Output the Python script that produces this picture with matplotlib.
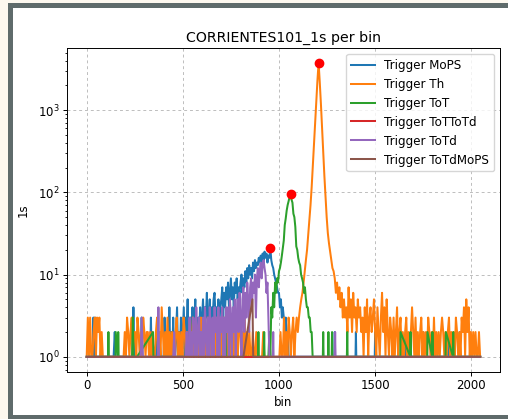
import numpy as np
import matplotlib
matplotlib.use("Agg")
import matplotlib.pyplot as plt
from matplotlib.patches import Rectangle

# ---------------- data (counts per bin) ----------------
# Trigger Th (orange): segments (start bin, step, values)
th_a_start, th_a_step = 0, 6
th_a = [1,3,1,3,1,1,2,3,1,3,2,3,1,2,1,
        1,1,1,1,1,1,1,1,1,1,1,1,1,1,1,1,1,1,
        2,1,3,2,1,2,3,1,2,2,1,3,2,1,2,1,3,2,1,2,2,1,2,
        1,2,1,1,2,3,1,2,1,4,2,1,2,1,3,1,2,1,2,1,1,2,3,1,2,1,2,1,3,2,1,2,1,1,2,1,3,1,2,1,2,1,2,3,1,
        2,1,2,1,3,2,1,2,1,2,1,3,1,2,2,1,2,1,3,2,1,2,1,2,1,3,1,2,1,2,1,4,2,1,2,1,3,1,2,1,2,1,1,2,1,
        1,2,1,1,1,1,1,2,1,1,1,1,1,1,1,1,1,1,1,1,1,1,2,1,1,3,1,2,1,3,2,1,2,3,1,2,3,2]
th_b_start, th_b_step = 1104, 6
th_b = [3,4,5,6,8,11,15,20,30,45,70,116,210,380,700,1300,2300,3776,2200,1200,
        600,300,160,90,50,32,24,19,15,12,11,9,6,8,5,7,4,6,3,5,3,4,2]
th_c_start, th_c_step = 1362, 6
th_c = [7,3,5,2,6,3,4,2,5,3,4,2,3,1,
        4,2,5,1,3,4,2,3,5,2,1,4,2,1,3,6,2,4,1,5,2,1,3,2,1,3,1,
        2,4,1,2,3,1,2,1,2,3,1,2,1,2,4,2,1,3,1,2,1,2,3,1,2,1,2,1,3,2,1,2,1,
        3,1,2,1,2,1,2,3,2,1,2,1,2,3,1,2,1,2,1,3,2,1,2,1,3,2,4,1,5,2,4,1,2,1,2,1,2,1,1,2,1]

# Trigger MoPS (blue)
mops_low_bins = [0, 33, 35, 40, 44, 47, 140, 146, 150, 238, 243, 248, 282, 286, 290, 330, 334, 338, 360, 364, 368]
mops_low_vals = [1, 1, 3, 1, 3, 1, 1, 2, 1, 1, 4, 1, 1, 3, 1, 1, 3, 1, 1, 2, 1]
mops_mid_start, mops_mid_step = 400, 5
mops_mid = [1,3,1,2,1,1,4,1,2,1,3,1,1,2,4,1,2,1,3,1,
            2,4,1,3,2,5,1,2,3,1,4,2,3,5,2,1,3,2,4,2,
            3,5,2,4,3,6,2,3,5,2,4,3,5,6,3,4,2,5,3,4,
            5,7,3,6,4,7,5,8,4,6,9,5,7,4,8,6,9,5,7,6,
            8,10,6,9,7,11,8,12,9,13,10,12,9,14,11,15,12,14,13,16,
            14,17,13,18,15,19,16,18,14,17,16,21,15,13,12,10,9,8,7,6,
            6,4,5,3,4,3,2,3,2,2]
mops_high_bins = [1050, 1288, 1290, 1292, 1398, 1400, 1402, 1498, 1500, 1502, 1658, 1660, 1662,
                  1748, 1750, 1752, 1878, 1880, 1882, 1938, 1940, 1942, 2000]
mops_high_vals = [1, 1, 2, 1, 1, 2, 1, 1, 2, 1, 1, 2, 1, 1, 2, 1, 1, 2, 1, 1, 2, 1, 1]

# Trigger ToT (green)
tot_low_bins = [0, 40, 111, 113, 115, 150, 151, 163, 164, 166, 236, 240, 244, 262, 345,
                347, 560, 722, 724, 726, 891, 893, 895, 921, 923, 925, 945]
tot_low_vals = [1, 1, 1, 2, 1, 1, 2, 1, 2, 1, 1, 3, 1, 1, 2,
                1, 1, 1, 2, 1, 1, 2, 1, 1, 2, 1, 1]
tot_mid_start, tot_mid_step = 950, 5
tot_mid = [2,1,4,3,6,4,8,6,9,8,
           11,12,14,17,21,26,40,48,60,70,
           78,88,95,82,75,55,50,38,22,20,
           16,14,13,10,9,8,6,7,5,4,4,3,3,2,2,1]
tot_high_bins = [1228, 1230, 1232, 1255, 1257, 1259, 1274, 1276, 1278, 1353, 1355, 1357,
                 1631, 1632, 1683, 1684, 1686, 1771, 1772, 1797, 1798, 1800,
                 1866, 1868, 1905, 1906, 1908, 2047]
tot_high_vals = [1, 2, 1, 1, 2, 1, 1, 2, 1, 1, 2, 1,
                 1, 2, 1, 2, 1, 1, 2, 1, 2, 1,
                 1, 2, 1, 2, 1, 1]

# Trigger ToTToTd (red)
tottotd_bins = [0, 2047]
tottotd_vals = [1, 1]

# Trigger ToTd (purple)
totd_low_bins = [0, 280, 286, 292, 370, 373, 376, 450, 455, 460, 515, 520, 525]
totd_low_vals = [1, 1, 3, 1, 1, 4, 1, 1, 2, 1, 1, 2, 1]
totd_mid_start, totd_mid_step = 530, 5
totd_mid = [1,3,1,2,1,3,2,1,4,1,2,3,1,2,1,3,1,4,2,1,
            3,1,4,2,1,3,1,4,2,3,1,4,1,3,2,4,1,3,1,4,
            2,4,1,5,3,1,4,2,5,1,3,5,2,6,3,1,5,7,2,6,
            3,8,5,2,7,9,4,8,6,10,3,9,12,7,11,14,9,13,15,12,
            10,6,8,3,1]
totd_high_bins = [968, 970, 972, 1290, 1292, 1294, 2047]
totd_high_vals = [1, 2, 1, 1, 2, 1, 1]

# Trigger ToTdMoPS (brown)
totdmops_bins = [0, 815, 862, 866, 2047]
totdmops_vals = [1, 1, 5, 1, 1]

labels = ["Trigger MoPS", "Trigger Th", "Trigger ToT", "Trigger ToTToTd", "Trigger ToTd", "Trigger ToTdMoPS"]
colors = ["#1f77b4", "#ff7f0e", "#2ca02c", "#d62728", "#9467bd", "#8c564b"]


def seg(start, step, vals):
    return list(start + step * np.arange(len(vals))), list(vals)


def join(*parts):
    xs, ys = [], []
    for x, y in parts:
        xs += list(x)
        ys += list(y)
    return np.array(xs), np.array(ys, dtype=float)


series = [
    join((mops_low_bins, mops_low_vals), seg(mops_mid_start, mops_mid_step, mops_mid),
         (mops_high_bins, mops_high_vals)),
    join(seg(th_a_start, th_a_step, th_a), seg(th_b_start, th_b_step, th_b),
         seg(th_c_start, th_c_step, th_c)),
    join((tot_low_bins, tot_low_vals), seg(tot_mid_start, tot_mid_step, tot_mid),
         (tot_high_bins, tot_high_vals)),
    join((tottotd_bins, tottotd_vals)),
    join((totd_low_bins, totd_low_vals), seg(totd_mid_start, totd_mid_step, totd_mid),
         (totd_high_bins, totd_high_vals)),
    join((totdmops_bins, totdmops_vals)),
]

# ---------------- figure ----------------
W, H = 508, 419
fig = plt.figure(figsize=(W / 100, H / 100), dpi=100)
fig.patch.set_facecolor("#fdf8ef")


def frame_rect(x0, y0, x1, y1, color):
    fig.add_artist(Rectangle((x0 / W, 1 - y1 / H), (x1 - x0) / W, (y1 - y0) / H,
                             transform=fig.transFigure, facecolor=color,
                             edgecolor="none", zorder=-10))


frame_rect(8, 3, 508, 419, "#5f6b6b")
frame_rect(13, 8, 508, 415, "white")

ax = fig.add_axes([67 / W, 1 - 371.5 / H, 433 / W, 323.5 / H])
ax.set_facecolor("white")

for (x, y), lab, c in zip(series, labels, colors):
    ax.plot(x, y, color=c, lw=1.45, label=lab)

# peak markers
for idx in (0, 2, 1):
    x, y = series[idx]
    k = int(np.argmax(y))
    ax.plot([x[k]], [y[k]], "o", color="red", ms=6, zorder=5)

ax.set_yscale("log")
ax.grid(True, linestyle=(0, (3, 3)), color="#bdbdbd", lw=0.7)
ax.set_title("CORRIENTES101_1s per bin", fontsize=10.2, pad=4.5)
ax.set_xlabel("bin", fontsize=8.5, labelpad=2.5)
ax.set_ylabel("1s", fontsize=8.5, labelpad=5.5)
ax.tick_params(labelsize=8.5, length=3, width=0.7, pad=2.5)
ax.tick_params(which="minor", length=1.7, width=0.6)
ax.set_xticks([0, 500, 1000, 1500, 2000])
for s in ax.spines.values():
    s.set_linewidth(0.7)
ax.legend(loc="upper right", fontsize=8.6)

fig.savefig("out.png", dpi=100)
